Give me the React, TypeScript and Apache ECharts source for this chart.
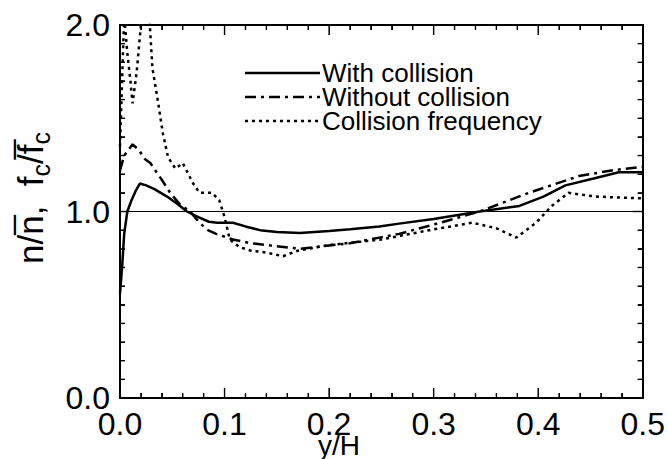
import React, { useEffect, useRef } from "react";
import * as echarts from "echarts";

const withCollision: [number, number][] = [
  [0, 0.56], [0.002, 0.7], [0.004, 0.88], [0.007, 1.0], [0.011, 1.06], [0.015, 1.11],
  [0.019, 1.15], [0.025, 1.14], [0.033, 1.12], [0.045, 1.08], [0.055, 1.04], [0.064, 1.0],
  [0.075, 0.97], [0.085, 0.945], [0.093, 0.94], [0.108, 0.94], [0.12, 0.92], [0.134, 0.9],
  [0.15, 0.89], [0.172, 0.885], [0.2, 0.895], [0.22, 0.905], [0.248, 0.92], [0.267, 0.935],
  [0.3, 0.96], [0.344, 1.0], [0.382, 1.03], [0.405, 1.08], [0.426, 1.14], [0.455, 1.18],
  [0.477, 1.21], [0.5, 1.21],
];

const withoutCollision: [number, number][] = [
  [0, 1.22], [0.004, 1.3], [0.008, 1.33], [0.012, 1.36], [0.018, 1.33], [0.024, 1.28],
  [0.029, 1.26], [0.035, 1.21], [0.04, 1.17], [0.048, 1.1], [0.057, 1.04], [0.067, 1.0],
  [0.076, 0.94], [0.084, 0.9], [0.092, 0.88], [0.108, 0.85], [0.125, 0.83], [0.14, 0.82],
  [0.172, 0.8], [0.22, 0.83], [0.248, 0.86], [0.267, 0.88], [0.3, 0.93], [0.344, 1.0],
  [0.391, 1.1], [0.439, 1.19], [0.47, 1.22], [0.5, 1.24],
];

const collisionFrequency: [number, number][] = [
  [0, 1.35], [0.002, 1.7], [0.004, 2.05], [0.007, 1.85], [0.01, 1.7], [0.012, 1.58],
  [0.016, 1.75], [0.02, 2.0], [0.024, 2.3], [0.028, 2.05], [0.031, 1.77], [0.036, 1.6],
  [0.041, 1.42], [0.046, 1.29], [0.053, 1.23], [0.06, 1.26], [0.07, 1.15], [0.076, 1.1],
  [0.088, 1.1], [0.095, 1.06], [0.1, 0.97], [0.105, 0.85], [0.114, 0.81], [0.125, 0.79],
  [0.14, 0.78], [0.156, 0.76], [0.17, 0.79], [0.2, 0.82], [0.25, 0.85], [0.296, 0.9],
  [0.337, 0.94], [0.36, 0.91], [0.379, 0.86], [0.398, 0.94], [0.413, 1.03], [0.429, 1.1],
  [0.455, 1.08], [0.5, 1.07],
];

const seriesNames = ["With collision", "Without collision", "Collision frequency"];
const xTicks = [0, 0.1, 0.2, 0.3, 0.4, 0.5];
const yTicks = [0, 1, 2];
const xMinorStep = 0.02;
const yMinorStep = 0.1;

const FONT = "'Liberation Sans', Arial, Helvetica, sans-serif";
const DASH_DOT = [11, 5, 3, 5];
const DOT = [3, 4];

function makeAxis(
  min: number,
  max: number,
  interval: number,
  minorSplit: number,
  position: string,
  showLabel: boolean
) {
  return {
    type: "value",
    position,
    min,
    max,
    interval,
    axisLine: { show: true, onZero: false, lineStyle: { color: "#000", width: 2 } },
    axisTick: { show: true, inside: true, length: 10, lineStyle: { color: "#000" } },
    minorTick: { show: true, splitNumber: minorSplit, length: 5, lineStyle: { color: "#000" } },
    splitLine: { show: false },
    axisLabel: {
      show: showLabel,
      color: "#000",
      fontSize: 32,
      lineHeight: 24,
      fontFamily: FONT,
      margin: position === "bottom" ? 14 : 10,
      formatter: (v: number) => v.toFixed(1),
    },
  };
}

export default function App() {
  const ref = useRef<HTMLDivElement>(null);
  useEffect(() => {
    if (!ref.current) return;
    const chart = echarts.init(ref.current, undefined, { renderer: "svg" });
    const xMin = xTicks[0];
    const xMax = xTicks[xTicks.length - 1];
    const yMin = yTicks[0];
    const yMax = yTicks[yTicks.length - 1];

    chart.setOption({
      animation: false,
      grid: { left: 120, right: 24, top: 25, bottom: 61 },
      xAxis: [
        makeAxis(xMin, xMax, 0.1, 5, "bottom", true),
        makeAxis(xMin, xMax, 0.1, 5, "top", false),
      ],
      yAxis: [
        makeAxis(yMin, yMax, 1, 10, "left", true),
        makeAxis(yMin, yMax, 1, 10, "right", false),
      ],
      series: [
        {
          name: seriesNames[0],
          type: "line",
          data: withCollision,
          showSymbol: false,
          symbol: "none",
          lineStyle: { color: "#000", width: 2.5, type: "solid" },
          itemStyle: { color: "#000" },
          markLine: {
            silent: true,
            symbol: "none",
            label: { show: false },
            lineStyle: { color: "#000", width: 1.2, type: "solid" },
            data: [{ yAxis: 1 }],
          },
        },
        {
          name: seriesNames[1],
          type: "line",
          data: withoutCollision,
          showSymbol: false,
          symbol: "none",
          lineStyle: { color: "#000", width: 2.5, type: DASH_DOT },
          itemStyle: { color: "#000" },
        },
        {
          name: seriesNames[2],
          type: "line",
          data: collisionFrequency,
          showSymbol: false,
          symbol: "none",
          lineStyle: { color: "#000", width: 2.5, type: DOT },
          itemStyle: { color: "#000" },
        },
      ],
    });

    // backup frame ticks placed through the chart's own scales
    const finder = { xAxisIndex: 0, yAxisIndex: 0 };
    const toPx = (p: number[]) => chart.convertToPixel(finder as any, p) as number[];
    const tickGraphics: any[] = [];
    const nx = Math.round((xMax - xMin) / xMinorStep);
    for (let i = 1; i < nx; i++) {
      const v = xMin + i * xMinorStep;
      const major = i % 5 === 0;
      const len = major ? 10 : 5;
      const style = { stroke: "#000", lineWidth: 1.4 };
      const a = toPx([v, yMin]);
      const b = toPx([v, yMax]);
      if (a && b) {
        tickGraphics.push({ type: "line", silent: true, z: 100, shape: { x1: a[0], y1: a[1], x2: a[0], y2: a[1] - len }, style });
        tickGraphics.push({ type: "line", silent: true, z: 100, shape: { x1: b[0], y1: b[1], x2: b[0], y2: b[1] + len }, style });
      }
    }
    const ny = Math.round((yMax - yMin) / yMinorStep);
    for (let i = 1; i < ny; i++) {
      const v = yMin + i * yMinorStep;
      const major = i % 10 === 0;
      const len = major ? 10 : 5;
      const style = { stroke: "#000", lineWidth: 1.4 };
      const a = toPx([xMin, v]);
      const b = toPx([xMax, v]);
      if (a && b) {
        tickGraphics.push({ type: "line", silent: true, z: 100, shape: { x1: a[0], y1: a[1], x2: a[0] + len, y2: a[1] }, style });
        tickGraphics.push({ type: "line", silent: true, z: 100, shape: { x1: b[0], y1: b[1], x2: b[0] - len, y2: b[1] }, style });
      }
    }

    const legendX0 = 245;
    const legendX1 = 322;
    const legendY0 = 73;
    const legendGap = 24;
    const legendDash = [null, DASH_DOT, DOT];
    const legendGraphics: any[] = [];
    seriesNames.forEach((name, i) => {
      const y = legendY0 + i * legendGap;
      legendGraphics.push({
        type: "line",
        shape: { x1: legendX0, y1: y, x2: legendX1 - 2, y2: y },
        style: { stroke: "#000", lineWidth: 2.5, lineDash: legendDash[i] || undefined },
        silent: true,
      });
      legendGraphics.push({
        type: "text",
        x: legendX1,
        y,
        style: {
          text: name,
          fill: "#000",
          fontSize: 26,
          lineHeight: 22,
          fontFamily: FONT,
          verticalAlign: "middle",
          align: "left",
        },
        silent: true,
      });
    });

    chart.setOption({
      graphic: [
        ...tickGraphics,
        ...legendGraphics,
        {
          type: "text",
          x: 30,
          y: 198,
          rotation: Math.PI / 2,
          style: {
            text: "{a|n/n\u0305,  f}{s|c}{a|/f\u0305}{s|c}",
            align: "center",
            verticalAlign: "middle",
            fill: "#000",
            rich: {
              a: { fontSize: 35, fontFamily: FONT, fill: "#000", lineHeight: 46, verticalAlign: "middle" },
              s: { fontSize: 25, fontFamily: FONT, fill: "#000", lineHeight: 46, verticalAlign: "bottom" },
            },
          },
        },
        {
          type: "text",
          x: 339,
          y: 445,
          style: {
            text: "y/H",
            align: "center",
            verticalAlign: "middle",
            fill: "#000",
            fontSize: 28,
            lineHeight: 20,
            fontFamily: FONT,
          },
        },
      ],
    });
    return () => chart.dispose();
  }, []);
  return (
    <div
      ref={ref}
      style={{ position: "fixed", left: 0, top: 0, width: 668, height: 459, background: "#fff" }}
    />
  );
}
